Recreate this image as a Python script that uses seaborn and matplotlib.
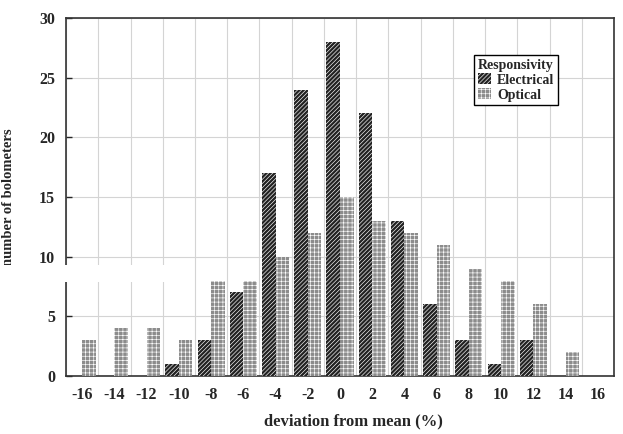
import numpy as np
import pandas as pd
import seaborn as sns
import matplotlib
matplotlib.use("Agg")
from matplotlib import pyplot as plt
from matplotlib.patches import Rectangle

deviation = [-16, -14, -12, -10, -8, -6, -4, -2, 0, 2, 4, 6, 8, 10, 12, 14, 16]
electrical = [0, 0, 0, 1, 3, 7, 17, 24, 28, 22, 13, 6, 3, 1, 3, 0, 0]
optical = [3, 4, 4, 3, 8, 8, 10, 12, 15, 13, 12, 11, 9, 8, 6, 2, 0]

sns.set_style("ticks")
plt.rcParams['font.family'] = ['Liberation Serif', 'DejaVu Serif']
plt.rcParams['font.weight'] = 'bold'
plt.rcParams['hatch.linewidth'] = 0.45

df = pd.DataFrame({
    "deviation": deviation * 2,
    "count": electrical + optical,
    "Responsivity": ["Electrical"] * len(deviation) + ["Optical"] * len(deviation),
})

fig = plt.figure(figsize=(6.23, 4.34), dpi=100)
ax = fig.add_axes([0.106, 0.1336, 0.8795, 0.825])

ax = sns.barplot(data=df, x="deviation", y="count", hue="Responsivity",
                 order=deviation, hue_order=["Electrical", "Optical"],
                 palette=["#222222", "#8c8c8c"], width=0.84, ax=ax,
                 linewidth=0, edgecolor="white", saturation=1, zorder=3)

hatches = {"Electrical": "////////", "Optical": "++++"}
for cont, name in zip(ax.containers, ["Electrical", "Optical"]):
    for bar in cont:
        bar.set_hatch(hatches[name])
        bar.set_edgecolor("white")
        bar.set_linewidth(0)

ax.set_xlim(-0.5, len(deviation) - 0.5)
ax.set_ylim(0, 30)
ax.set_yticks(range(0, 31, 5))
ax.set_xticks(np.arange(-0.5, len(deviation), 1.0), minor=True)
ax.grid(False)
ax.grid(True, which="minor", axis="x", color="#d4d4d4", linewidth=0.8, zorder=0)
ax.grid(True, which="major", axis="y", color="#d4d4d4", linewidth=0.8, zorder=0)
ax.set_axisbelow(True)

for s in ax.spines.values():
    s.set_linewidth(1.2)
    s.set_color("#333333")
ax.tick_params(axis="y", which="major", direction="in", length=4, width=1,
               labelsize=11.5, pad=8)
ax.tick_params(axis="x", which="major", length=0, pad=8, labelsize=11.5)
ax.tick_params(axis="x", which="minor", length=0)

ax.set_xlabel("deviation from mean (%)", fontsize=12, fontweight="bold")
ax.set_ylabel("number of bolometers", fontsize=10.5, fontweight="bold")
ax.xaxis.set_label_coords((353.5 - 66) / 548, -0.103)
ax.yaxis.set_label_coords(-0.093, 0.5)

leg = ax.legend(title="Responsivity", loc="upper left", bbox_to_anchor=(0.745, 0.896),
                frameon=True, fancybox=False, edgecolor="black", framealpha=1,
                handlelength=0.95, handleheight=0.85, handletextpad=0.45,
                borderpad=0.25, labelspacing=0.12, borderaxespad=0,
                fontsize=10, title_fontsize=10, alignment="left")
leg.get_frame().set_linewidth(1.0)
leg.get_title().set_fontweight("bold")
for h, name in zip(leg.legend_handles, ["Electrical", "Optical"]):
    h.set_hatch(hatches[name])
    h.set_edgecolor("white")
    h.set_linewidth(0)

# white gap present in the original scan
fig.patches.append(Rectangle((0, (434 - 282) / 434), 193 / 623, 17 / 434,
                             transform=fig.transFigure, facecolor="white",
                             edgecolor="none", zorder=10))

fig.savefig("out.png", dpi=100)
